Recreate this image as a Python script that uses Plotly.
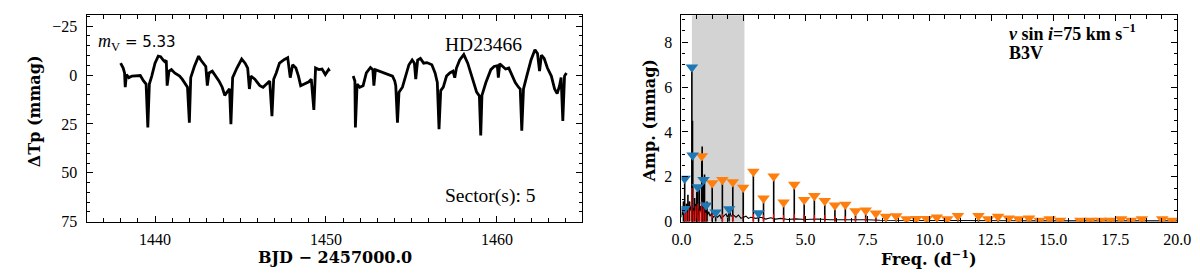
import plotly.graph_objects as go

# ---------------- light curve (BJD - 2457000, mmag) ----------------
lc1_t = [1437.99, 1438.14, 1438.22, 1438.26, 1438.33, 1438.47, 1438.66, 1438.95, 1439.14, 1439.33, 1439.48,
         1439.58, 1439.67, 1439.81, 1440.00, 1440.19, 1440.33, 1440.48, 1440.57, 1440.66, 1440.71, 1440.82,
         1440.96, 1441.15, 1441.44, 1441.59, 1441.78, 1441.90, 1442.01, 1442.09, 1442.30, 1442.55, 1442.68,
         1442.87, 1442.97, 1443.06, 1443.16, 1443.35, 1443.55, 1443.74, 1443.93, 1444.08, 1444.21, 1444.36,
         1444.44, 1444.54, 1444.79, 1445.07, 1445.27, 1445.42, 1445.52, 1445.61, 1445.84, 1446.13, 1446.32,
         1446.51, 1446.71, 1446.84, 1446.94, 1447.09, 1447.28, 1447.57, 1447.76, 1447.91, 1448.05, 1448.24,
         1448.39, 1448.52, 1448.72, 1449.00, 1449.14, 1449.29, 1449.39, 1449.58, 1449.77, 1449.96, 1450.15,
         1450.21]
lc1_v = [-6.1, -3.6, -1.1, 6.2, -0.3, 1.3, 0.5, 0.5, 0.2, 3.0, 4.6,
         26.8, 4.6, 0.5, -6.1, -9.7, -9.4, -7.7, -6.9, -7.5, 5.4, -2.0,
         -2.8, -1.1, 0.5, 2.1, 4.6, 6.2, 24.3, 1.3, -4.4, -9.7, -7.7,
         -5.3, -4.4, 5.4, -1.1, -2.0, 0.5, 3.0, 6.2, 10.4, 8.7, 7.0,
         25.1, 1.3, -3.6, -8.2, -6.1, -3.6, 7.1, 0.5, 2.1, 5.4, 6.2,
         4.6, 3.0, 21.0, 2.1, -1.1, -6.1, -8.0, -8.9, 1.3, -5.3, -3.6,
         0.5, 5.4, 4.6, 3.4, 2.1, 17.8, -3.6, -2.8, -3.1, -0.3, -2.8,
         -2.0]
lc2_t = [1451.59, 1451.69, 1451.72, 1451.82, 1451.97, 1452.17, 1452.36, 1452.60, 1452.74, 1452.80, 1452.89,
         1453.12, 1453.41, 1453.70, 1453.89, 1454.02, 1454.08, 1454.18, 1454.27, 1454.47, 1454.66, 1454.85,
         1455.04, 1455.17, 1455.25, 1455.36, 1455.52, 1455.71, 1455.90, 1456.19, 1456.38, 1456.51, 1456.61,
         1456.71, 1456.86, 1457.05, 1457.24, 1457.43, 1457.53, 1457.63, 1457.82, 1458.06, 1458.29, 1458.58,
         1458.81, 1458.97, 1459.05, 1459.12, 1459.35, 1459.64, 1459.83, 1460.02, 1460.08, 1460.16, 1460.31,
         1460.50, 1460.69, 1460.84, 1461.07, 1461.26, 1461.36, 1461.45, 1461.55, 1461.74, 1461.99, 1462.22,
         1462.37, 1462.49, 1462.60, 1462.76, 1462.95, 1463.18, 1463.37, 1463.52, 1463.66, 1463.75, 1463.85,
         1463.95, 1464.06]
lc2_v = [0.5, 3.0, 26.8, 4.6, 6.2, 5.4, -1.1, -3.9, -2.8, 5.4, -2.8,
         -2.0, -1.1, -0.3, 0.5, 3.0, 5.4, 24.3, 8.7, 6.2, 0.5, -5.3,
         -7.7, -6.1, 2.1, -7.7, -8.5, -6.1, -6.4, -5.3, -1.1, 3.8, 27.6,
         7.9, 6.2, 0.5, -1.1, -2.0, 1.3, -3.6, -7.7, -10.5, -6.1, 2.1,
         8.7, 10.7, 30.9, 10.4, 3.8, -2.8, -4.4, -4.8, 1.3, -5.8, -4.4,
         -3.1, -3.6, -0.3, 3.8, 6.2, 7.1, 28.4, 7.1, 0.5, -7.7, -13.0,
         -11.0, -2.0, -10.2, -8.5, -3.6, 0.5, 7.1, 9.5, 5.4, 1.3, 23.5,
         0.5, -1.1]

# ---------------- amplitude spectrum (d^-1, mmag) ----------------
floor_freq = [0.00, 0.03, 0.06, 0.09, 0.11, 0.16, 0.19, 0.23, 0.27, 0.31, 0.35, 0.38, 0.48, 0.51, 0.56,
              0.60, 0.68, 0.71, 0.77, 0.80, 0.86, 0.95, 1.00, 1.05, 1.10, 1.15, 1.20, 1.30, 1.35, 1.45,
              1.55, 1.60, 1.70, 1.80, 1.85, 1.95, 2.00, 2.10, 2.20, 2.30, 2.40, 2.60, 2.70, 2.80, 3.00,
              3.20, 3.40, 3.60, 3.80, 4.00, 4.30, 4.60, 5.00, 5.50, 6.00, 6.50, 7.00, 7.50, 8.00, 9.00,
              10.0, 12.0, 14.0, 16.0, 18.0, 20.0]
floor_amp = [0.20, 0.60, 0.30, 0.90, 0.40, 0.70, 0.35, 0.80, 0.40, 0.90, 0.50, 0.70, 0.60, 0.30, 0.80,
             0.40, 0.60, 0.30, 0.70, 0.40, 0.50, 0.40, 0.60, 0.30, 0.45, 0.25, 0.35, 0.20, 0.30, 0.20,
             0.30, 0.15, 0.25, 0.35, 0.20, 0.45, 0.25, 0.30, 0.20, 0.30, 0.15, 0.25, 0.15, 0.20, 0.15,
             0.20, 0.12, 0.18, 0.12, 0.15, 0.10, 0.13, 0.10, 0.12, 0.09, 0.10, 0.08, 0.09, 0.07, 0.06,
             0.05, 0.05, 0.04, 0.04, 0.04, 0.04]

extra_freq = [0.08, 0.20, 0.26, 0.33, 0.445, 0.53, 0.62, 0.72, 0.835, 0.93, 1.03]
extra_amp = [0.90, 0.80, 1.20, 0.90, 4.50, 1.06, 1.34, 1.50, 3.35, 2.10, 0.90]

red_freq = [0.13, 0.20, 0.29, 0.42, 0.50, 0.58, 0.66, 0.74, 0.82, 0.90, 0.98, 1.24, 1.65, 2.07, 2.49,
            2.90, 3.31, 3.72, 4.12, 4.55, 4.95, 5.36, 5.78, 6.19, 6.61, 7.02, 7.43, 7.84]
red_amp = [0.60, 0.50, 0.60, 1.50, 0.50, 0.70, 0.80, 0.50, 0.90, 0.60, 0.40, 0.35, 0.35, 0.30, 0.30,
           0.35, 0.30, 0.35, 0.30, 0.35, 0.30, 0.30, 0.30, 0.25, 0.25, 0.20, 0.20, 0.15]

blue_freq = [0.12, 0.13, 0.42, 0.45, 0.66, 0.89, 0.99, 1.38, 1.92, 3.11]
blue_amp = [0.58, 1.93, 6.88, 2.96, 1.55, 1.87, 0.74, 0.42, 0.57, 0.39]

orange_freq = [0.82, 1.24, 1.65, 2.07, 2.49, 2.90, 3.31, 3.72, 4.12, 4.55, 4.95, 5.36, 5.78, 6.19, 6.61,
               7.02, 7.43, 7.84, 8.25, 8.66, 9.08, 9.47, 9.89, 10.30, 10.72, 11.15, 11.98, 12.37, 12.77,
               13.20, 13.60, 14.02, 14.44, 14.85, 15.27, 16.09, 16.49, 16.92, 17.31, 17.73, 18.14, 18.57,
               19.39, 19.79]
orange_amp = [2.93, 1.73, 1.87, 1.77, 1.53, 2.24, 1.05, 2.03, 0.87, 1.66, 0.98, 1.16, 0.94, 0.74, 0.77,
              0.48, 0.51, 0.38, 0.23, 0.26, 0.12, 0.13, 0.13, 0.20, 0.12, 0.27, 0.27, 0.12, 0.23,
              0.16, 0.12, 0.16, 0.06, 0.12, 0.06, 0.06, 0.06, 0.06, 0.06, 0.12, 0.06, 0.12,
              0.12, 0.06]

shade_range = [0.42, 2.54]

lc_xticks = [1440, 1450, 1460]
lc_yticks = [-25, 0, 25, 50, 75]
lc_yticktext = ["\u221225", "0", "25", "50", "75"]
ft_xticks = [0.0, 2.5, 5.0, 7.5, 10.0, 12.5, 15.0, 17.5, 20.0]
ft_yticks = [0, 2, 4, 6, 8]


def stems(fs, amps):
    xs, ys = [], []
    for f, a in zip(fs, amps):
        xs += [f, f, None]
        ys += [0, a, None]
    return xs, ys


W, H = 1200, 275
SERIF = "Liberation Serif"
BOLD = "DejaVu Serif"

fig = go.Figure()

# light curve
fig.add_trace(go.Scatter(x=lc1_t + [None] + lc2_t, y=lc1_v + [None] + lc2_v, mode="lines",
                         line=dict(color="black", width=2.8), connectgaps=False,
                         xaxis="x", yaxis="y", showlegend=False))

# spectrum
fig.add_trace(go.Scatter(x=floor_freq, y=floor_amp, mode="lines", line=dict(color="black", width=1.1),
                         xaxis="x2", yaxis="y2", showlegend=False))
sx, sy = stems(extra_freq + blue_freq + orange_freq, extra_amp + blue_amp + orange_amp)
fig.add_trace(go.Scatter(x=sx, y=sy, mode="lines", line=dict(color="black", width=1.6),
                         xaxis="x2", yaxis="y2", showlegend=False))
rx, ry = stems(red_freq, red_amp)
fig.add_trace(go.Scatter(x=rx, y=ry, mode="lines", line=dict(color="red", width=1.2),
                         xaxis="x2", yaxis="y2", showlegend=False))
fig.add_trace(go.Scatter(x=orange_freq, y=orange_amp, mode="markers",
                         marker=dict(symbol="triangle-down", size=11, color="#ff7f0e", line=dict(width=0)),
                         xaxis="x2", yaxis="y2", showlegend=False))
fig.add_trace(go.Scatter(x=blue_freq, y=blue_amp, mode="markers",
                         marker=dict(symbol="triangle-down", size=11, color="#1f77b4", line=dict(width=0)),
                         xaxis="x2", yaxis="y2", showlegend=False))

fig.add_shape(type="rect", xref="x2", yref="y2 domain", x0=shade_range[0], x1=shade_range[1], y0=0, y1=1,
              fillcolor="#d3d3d3", line=dict(width=0), layer="below")

ydom = [1 - 221 / H, 1 - 7.5 / H]


def axstyle(**kw):
    d = dict(showline=True, linecolor="black", linewidth=1.2, mirror="allticks", ticks="inside",
             ticklen=6, tickwidth=1.1, tickcolor="black", showgrid=False, zeroline=False,
             tickfont=dict(family=SERIF, size=16, color="black"))
    d.update(kw)
    return d


minor_common = dict(ticks="inside", ticklen=3.5, tickwidth=1, tickcolor="black", showgrid=False)

fig.update_layout(
    width=W, height=H, margin=dict(l=0, r=0, t=0, b=0),
    paper_bgcolor="white", plot_bgcolor="white",
    xaxis=axstyle(domain=[70 / W, 576 / W], range=[1436, 1465], tickvals=lc_xticks,
                  minor=dict(dtick=1, tick0=1436, **minor_common), anchor="y", ticklabelstandoff=3),
    yaxis=axstyle(domain=ydom, range=[75, -30.6], tickvals=lc_yticks, ticktext=lc_yticktext,
                  minor=dict(dtick=5, tick0=0, **minor_common), anchor="x", ticklabelstandoff=5),
    xaxis2=axstyle(domain=[677 / W, 1183 / W], range=[0, 20], tickvals=ft_xticks, tickformat=".1f",
                   minor=dict(dtick=0.625, tick0=0, **minor_common), anchor="y2", ticklabelstandoff=3),
    yaxis2=axstyle(domain=ydom, range=[0, 9.2], tickvals=ft_yticks,
                   minor=dict(dtick=0.5, tick0=0, **minor_common), anchor="x2", ticklabelstandoff=5),
)


def ann(text, px, py, size, family=SERIF, xanchor="left", yanchor="middle", angle=0):
    fig.add_annotation(text=text, xref="paper", yref="paper", x=px / W, y=1 - py / H,
                       xanchor=xanchor, yanchor=yanchor, showarrow=False, textangle=angle,
                       font=dict(family=family, size=size, color="black"))


ann("<span style='font-family:Liberation Serif;font-size:18px'><i>m</i><sub>V</sub></span> = 5.33", 80, 36, 15,
    family="DejaVu Sans")
ann("HD23466", 434, 38, 19.5)
ann("Sector(s): 5", 434, 194, 19.5)
ann("<b><i>v</i> sin <i>i</i>=75 km s<sup>\u22121</sup></b>", 1009, 25, 18)
ann("<b>B3V</b>", 1009, 47, 18)

ann("<b>\u0394Tp (mmag)</b>", 17, 107, 16, family=BOLD, xanchor="center", angle=-90)
ann("<b>BJD \u2212 2457000.0</b>", 323, 258, 16, family=BOLD, xanchor="center")
ann("<b>Amp. (mmag)</b>", 644, 117, 16, family=BOLD, xanchor="center", angle=-90)
ann("<b>Freq. (d<sup>\u22121</sup>)</b>", 930, 258, 16, family=BOLD, xanchor="center")

fig.write_html("out.html")
